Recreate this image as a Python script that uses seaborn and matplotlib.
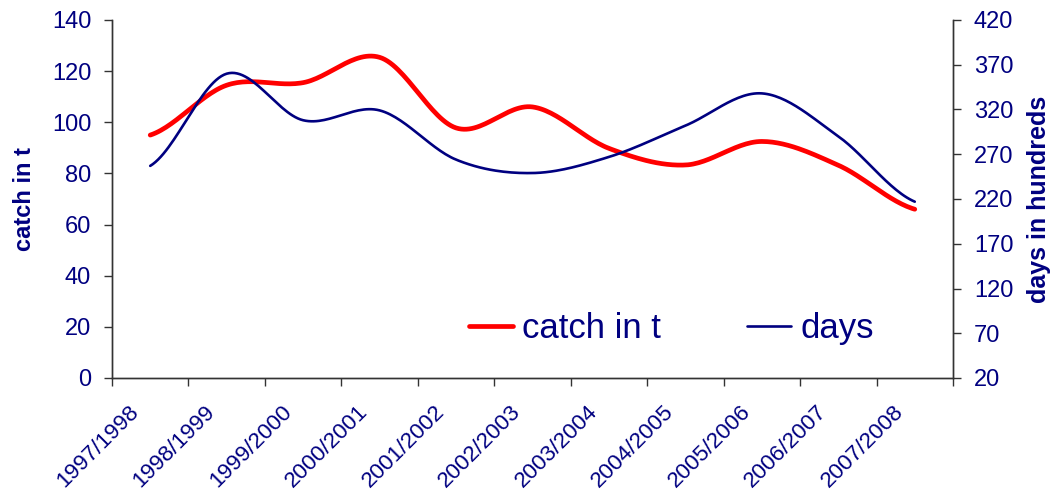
import numpy as np
import pandas as pd
import matplotlib
matplotlib.use("Agg")
import matplotlib.pyplot as plt
import matplotlib.transforms as mtransforms
import seaborn as sns
from matplotlib.lines import Line2D

seasons = ["1997/1998", "1998/1999", "1999/2000", "2000/2001", "2001/2002", "2002/2003",
           "2003/2004", "2004/2005", "2005/2006", "2006/2007", "2007/2008"]
catch_t = [95, 114.5, 115.5, 125.4, 97.8, 106, 89.8, 83.3, 92.5, 83.2, 66]
days_h = [257, 360, 308, 319, 264, 249, 267, 302, 338, 290, 217]

NAVY = "#000080"
RED = "#FF0000"


def smooth(values, n=30):
    """Catmull-Rom (Excel-style) smoothed line through the data points."""
    x = np.arange(len(values), dtype=float)
    y = np.asarray(values, dtype=float)
    px = np.concatenate([[2 * x[0] - x[1]], x, [2 * x[-1] - x[-2]]])
    py = np.concatenate([[y[0]], y, [y[-1]]])
    xs, ys = [], []
    for i in range(1, len(px) - 2):
        p0, p1, p2, p3 = (np.array([px[j], py[j]]) for j in (i - 1, i, i + 1, i + 2))
        c1 = p1 + (p2 - p0) / 6
        c2 = p2 - (p3 - p1) / 6
        t = np.linspace(0, 1, n)[:, None]
        pts = (1 - t) ** 3 * p1 + 3 * (1 - t) ** 2 * t * c1 + 3 * (1 - t) * t ** 2 * c2 + t ** 3 * p2
        if i > 1:
            pts = pts[1:]
        xs.append(pts[:, 0]); ys.append(pts[:, 1])
    return np.concatenate(xs), np.concatenate(ys)


sns.set_theme(style="white")
plt.rcParams["font.family"] = ["Liberation Sans", "DejaVu Sans"]

fig = plt.figure(figsize=(10.5, 4.92), dpi=100)
ax = fig.add_axes([112 / 1050, 1 - 378 / 492, (953 - 112) / 1050, (378 - 20) / 492])
ax2 = ax.twinx()

cx, cy = smooth(catch_t)
dx, dy = smooth(days_h)
sns.lineplot(x=cx, y=cy, ax=ax, color=RED, lw=3.4, sort=False, legend=False)
sns.lineplot(x=dx, y=dy, ax=ax2, color=NAVY, lw=1.9, sort=False, legend=False)

ax.set_xlim(-0.5, len(seasons) - 0.5)
ax.set_ylim(0, 140)
ax.set_yticks(np.arange(0, 141, 20))
ax2.set_ylim(20, 420)
ax2.set_yticks(np.arange(20, 421, 50))

# category boundaries carry the tick marks; labels sit under the category centres
ax.set_xticks(np.arange(-0.5, len(seasons), 1.0))
ax.set_xticklabels([])
offset = mtransforms.ScaledTranslation(-22 / 100, -23 / 100, fig.dpi_scale_trans)
for i, s in enumerate(seasons):
    ax.text(i, 0, s, transform=ax.get_xaxis_transform() + offset, rotation=45,
            ha="right", va="top", rotation_mode="anchor", fontsize=16.2, color=NAVY,
            clip_on=False)

for a in (ax, ax2):
    a.grid(False)
    a.spines["top"].set_visible(False)
    for s in ("left", "right", "bottom"):
        a.spines[s].set_color("#333333")
        a.spines[s].set_linewidth(1.0)

ax.tick_params(axis="x", which="major", direction="out", length=6, width=1, color="#333333", bottom=True)
ax.tick_params(axis="y", direction="out", length=6, width=1, color="#333333", left=True,
               labelsize=17, labelcolor=NAVY, pad=9)
ax2.tick_params(axis="y", direction="out", length=6, width=1, color="#333333", right=True,
                labelsize=17, labelcolor=NAVY, pad=9)

ax.set_ylabel("catch in t", fontsize=17, fontweight="bold", color=NAVY)
ax.yaxis.set_label_coords(-76 / 841, 0.5)
ax2.set_ylabel("days in hundreds", fontsize=18, fontweight="bold", color=NAVY, rotation=90)
ax2.yaxis.set_label_coords(1 + 74 / 841, 0.5)

handles = [Line2D([], [], color=RED, lw=3.4), Line2D([], [], color=NAVY, lw=1.9)]
leg = ax.legend(handles, ["catch in t", "days"], loc="center", bbox_to_anchor=(0.665, 0.137),
                ncol=2, frameon=False, fontsize=25, handlelength=1.27, handletextpad=0.25,
                columnspacing=2.5, borderpad=0, borderaxespad=0)
for t in leg.get_texts():
    t.set_color(NAVY)

fig.savefig("out.png", dpi=100)
